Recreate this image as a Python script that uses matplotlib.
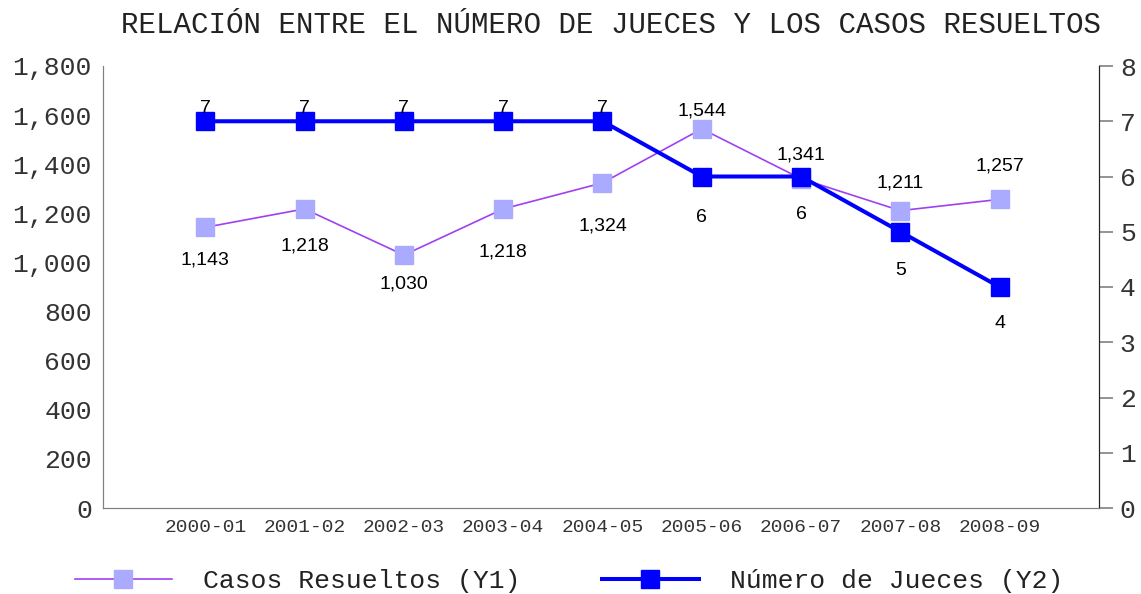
import matplotlib.pyplot as plt
from matplotlib.ticker import FuncFormatter

# Datos
periodos = ['2000-01', '2001-02', '2002-03', '2003-04', '2004-05',
            '2005-06', '2006-07', '2007-08', '2008-09']
casos = [1143, 1218, 1030, 1218, 1324, 1544, 1341, 1211, 1257]
jueces = [7, 7, 7, 7, 7, 6, 6, 5, 4]

# desplazamiento vertical de las etiquetas (pixeles, + = abajo)
off_casos = [33, 37, 29, 43, 43, -18, -24, -28, -33]
off_jueces = [-13, -13, -13, -13, -13, 41, 38, 39, 37]

mono = 'Liberation Mono'
sans = 'Liberation Sans'

fig = plt.figure(figsize=(11.41, 5.94), dpi=100)
ax = fig.add_axes([103 / 1141, 86 / 594, 996 / 1141, 442 / 594])
ax2 = ax.twinx()

x = list(range(len(periodos)))
l1, = ax.plot(x, casos, color='#a040f0', lw=1.2, marker='s', ms=13,
              mfc='#aaaaff', mec='#aaaaff', label='Casos Resueltos (Y1)')
l2, = ax2.plot(x, jueces, color='#0000ff', lw=2.9, marker='s', ms=13,
               mfc='#0000ff', mec='#0000ff', label='Número de Jueces (Y2)')

for xi, v, o in zip(x, casos, off_casos):
    ax.annotate(f'{v:,}', (xi, v), xytext=(0, -o * 0.72), textcoords='offset points',
                ha='center', va='center', fontsize=14, family=sans, color='black')
for xi, v, o in zip(x, jueces, off_jueces):
    ax2.annotate(f'{v}', (xi, v), xytext=(0, -o * 0.72), textcoords='offset points',
                 ha='center', va='center', fontsize=14, family=sans, color='black')

ax.set_xlim(-1.03, 9.0)
ax.set_ylim(0, 1800)
ax.set_yticks(range(0, 1801, 200))
ax.yaxis.set_major_formatter(FuncFormatter(lambda v, p: f'{int(v):,}'))
ax2.set_ylim(0, 8)
ax2.set_yticks(range(0, 9))

ax.set_xticks(x)
ax.set_xticklabels(periodos, family=mono, fontsize=14, color='#333333')
ax.tick_params(axis='x', length=0, pad=8)
ax.tick_params(axis='y', length=0, pad=8, labelsize=19, labelcolor='#333333')
for t in ax.get_yticklabels():
    t.set_family(mono)
ax2.tick_params(axis='y', length=10, width=1.2, color='#808080', pad=5,
                labelsize=19, labelcolor='#333333')
for t in ax2.get_yticklabels():
    t.set_family(mono)

for a in (ax, ax2):
    a.spines['top'].set_visible(False)
    a.spines['left'].set_color('#808080')
    a.spines['bottom'].set_color('#808080')
    a.spines['right'].set_color('#222222')

fig.text(611 / 1141, 569 / 594, 'RELACIÓN ENTRE EL NÚMERO DE JUECES Y LOS CASOS RESUELTOS',
         ha='center', va='center', family=mono, fontsize=21, color='#222222')

lg = fig.legend(handles=[l1, l2], loc='center left', bbox_to_anchor=(75 / 1141, 13 / 594),
                ncol=2, frameon=False, borderpad=0, borderaxespad=0, handlelength=3.67,
                handletextpad=1.17, columnspacing=3.1, prop={'family': mono, 'size': 19})
for t in lg.get_texts():
    t.set_color('#222222')

fig.savefig('out.png', dpi=100)
